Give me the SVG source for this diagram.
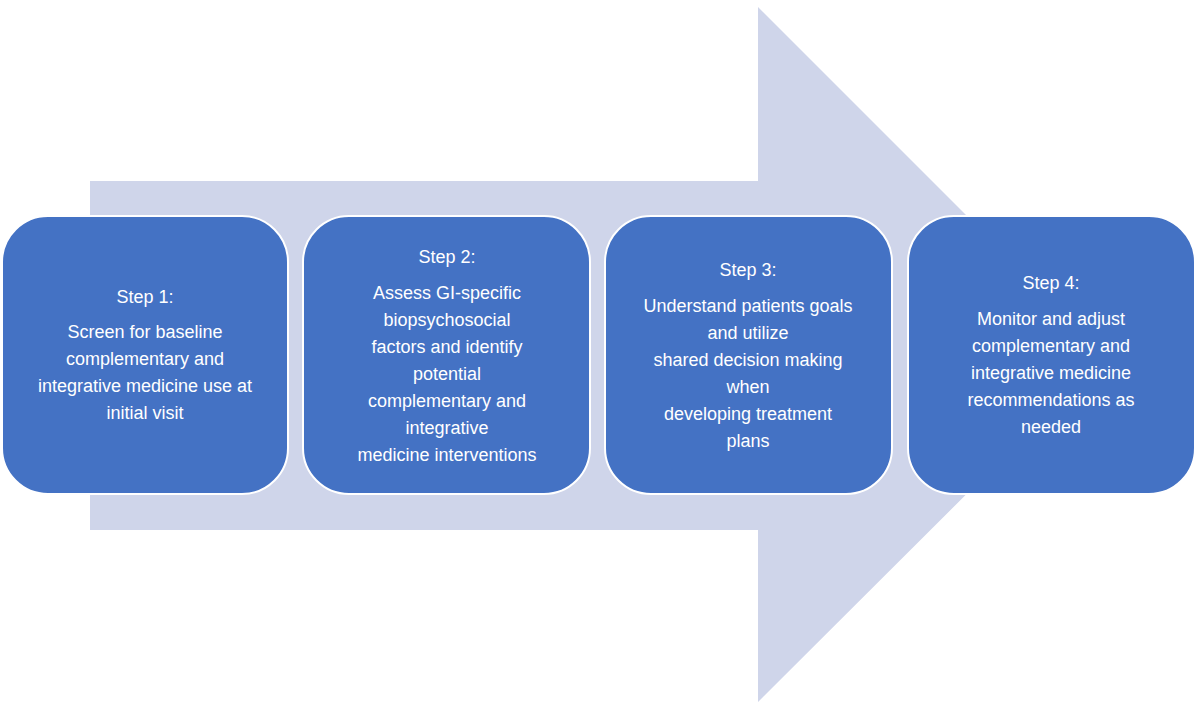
<svg xmlns="http://www.w3.org/2000/svg" width="1199" height="705" viewBox="0 0 1199 705">
<style>
.b{fill:#4472c4;stroke:#fff;stroke-width:2}
text{font-family:"Liberation Sans",Arial,sans-serif;font-size:18px;fill:#fff;text-anchor:middle}
</style>
<rect width="1199" height="705" fill="#fff"/>
<g id="arrow"><polygon points="90,181 758,181 758,7 1106,355 758,702 758,530 90,530" fill="#cfd5ea"/></g>
<g id="connectors"></g>
<g id="step1"><rect class="b" x="2" y="216" width="286" height="278" rx="46"/>
<text x="145"><tspan x="145" y="303">Step 1:</tspan><tspan x="145" y="338">Screen for baseline</tspan><tspan x="145" y="365">complementary and</tspan><tspan x="145" y="392">integrative medicine use at</tspan><tspan x="145" y="419">initial visit</tspan></text></g>
<g id="step2"><rect class="b" x="303" y="216" width="287" height="278" rx="46"/>
<text><tspan x="447" y="263">Step 2:</tspan><tspan x="447" y="299">Assess GI-specific</tspan><tspan x="447" y="326">biopsychosocial</tspan><tspan x="447" y="353">factors and identify</tspan><tspan x="447" y="380">potential</tspan><tspan x="447" y="407">complementary and</tspan><tspan x="447" y="434">integrative</tspan><tspan x="447" y="461">medicine interventions</tspan></text></g>
<g id="step3"><rect class="b" x="605" y="216" width="287" height="278" rx="46"/>
<text><tspan x="748" y="276">Step 3:</tspan><tspan x="748" y="312">Understand patients goals</tspan><tspan x="748" y="339">and utilize</tspan><tspan x="748" y="366">shared decision making</tspan><tspan x="748" y="393">when</tspan><tspan x="748" y="420">developing treatment</tspan><tspan x="748" y="447">plans</tspan></text></g>
<g id="step4"><rect class="b" x="908" y="216" width="287" height="278" rx="46"/>
<text><tspan x="1051" y="289">Step 4:</tspan><tspan x="1051" y="325">Monitor and adjust</tspan><tspan x="1051" y="352">complementary and</tspan><tspan x="1051" y="379">integrative medicine</tspan><tspan x="1051" y="406">recommendations as</tspan><tspan x="1051" y="433">needed</tspan></text></g>
</svg>
